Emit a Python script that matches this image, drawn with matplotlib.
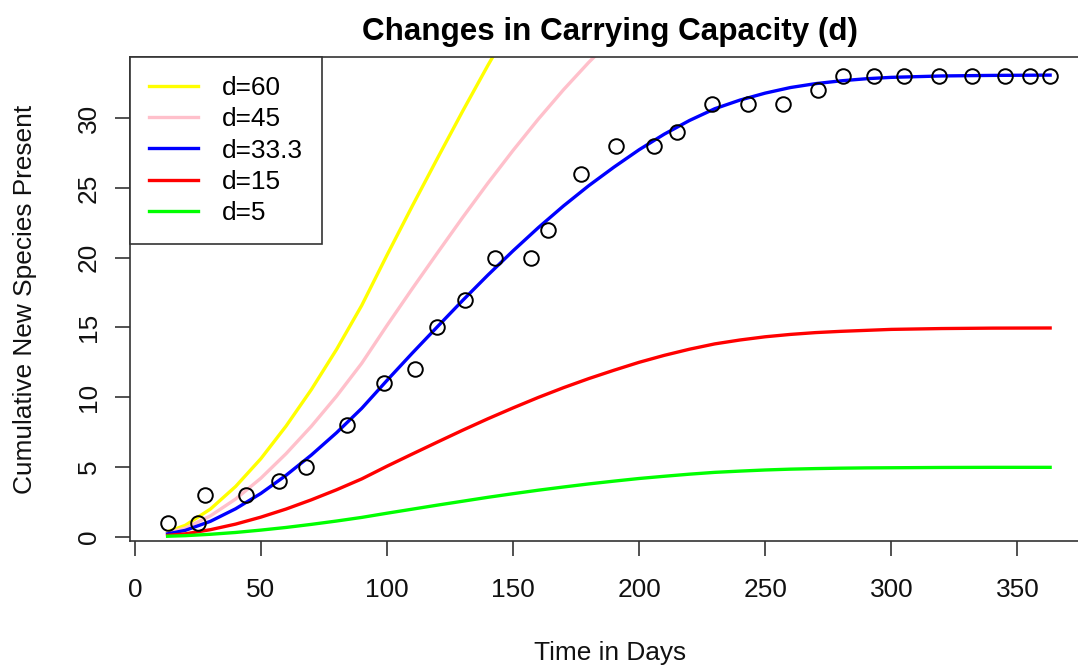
import matplotlib
matplotlib.use("Agg")
import matplotlib.pyplot as plt

plt.rcParams['font.family'] = ['Liberation Sans', 'DejaVu Sans']

# observed cumulative species counts
obs_days = [13, 25, 28, 44, 57, 68, 84, 99, 111, 120,
            131, 143, 157, 164, 177, 191, 206, 215, 229, 243,
            257, 271, 281, 293, 305, 319, 332, 345, 355, 363]
obs_species = [1, 1, 3, 3, 4, 5, 8, 11, 12, 15,
               17, 20, 20, 22, 26, 28, 28, 29, 31, 31,
               31, 32, 33, 33, 33, 33, 33, 33, 33, 33]

# model curves
curve_days = [13, 20, 30, 40, 50, 60, 70, 80, 90, 100, 110, 120, 130, 140, 150, 160,
              170, 180, 190, 200, 210, 220, 230, 240, 250, 260, 270, 280, 290, 300,
              320, 340, 363]
d60 = [0.36, 0.81, 1.98, 3.6, 5.59, 7.93, 10.54, 13.42, 16.58, 20.18, 23.69, 27.12,
       30.5, 33.78, 36.92, 39.91]
d45 = [0.27, 0.61, 1.49, 2.7, 4.19, 5.95, 7.91, 10.07, 12.43, 15.14, 17.77, 20.34,
       22.88, 25.34, 27.69, 29.93, 32.04, 34.0, 35.8, 37.49]
d33 = [0.2, 0.45, 1.1, 2.0, 3.1, 4.4, 5.85, 7.45, 9.2, 11.2, 13.15, 15.05, 16.93,
       18.75, 20.49, 22.15, 23.71, 25.16, 26.49, 27.74, 28.86, 29.84, 30.68, 31.3,
       31.8, 32.2, 32.48, 32.68, 32.83, 32.93, 33.03, 33.07, 33.09]
d15 = [0.09, 0.2, 0.5, 0.9, 1.4, 1.98, 2.64, 3.36, 4.14, 5.05, 5.92, 6.78, 7.63,
       8.45, 9.23, 9.98, 10.68, 11.33, 11.93, 12.5, 13.0, 13.44, 13.82, 14.1, 14.33,
       14.5, 14.63, 14.72, 14.79, 14.86, 14.92, 14.95, 14.96]
d5 = [0.03, 0.07, 0.17, 0.3, 0.47, 0.66, 0.88, 1.12, 1.38, 1.68, 1.97, 2.26, 2.54,
      2.82, 3.08, 3.33, 3.56, 3.78, 3.98, 4.17, 4.33, 4.48, 4.61, 4.7, 4.78, 4.84,
      4.88, 4.91, 4.93, 4.94, 4.96, 4.97, 4.97]

labels = ["d=60", "d=45", "d=33.3", "d=15", "d=5"]
colors = ["#ffff00", "#ffc0cb", "#0000ff", "#ff0000", "#00ff00"]
curves = [d60, d45, d33, d15, d5]

fig = plt.figure(figsize=(10.78, 6.65), dpi=100)
ax = fig.add_axes([0.1206, 0.1865, 0.8905, 0.7278])

ax.plot(obs_days, obs_species, linestyle='none', marker='o', markersize=10.5,
        markerfacecolor='none', markeredgecolor='black', markeredgewidth=1.4, zorder=3)
for ys, c, lab in zip(curves, colors, labels):
    ax.plot(curve_days[:len(ys)], ys, color=c, lw=2.4, label=lab, zorder=2,
            solid_joinstyle='round')

ax.set_xlim(-1.9, 378.8)
ax.set_ylim(-0.31, 34.39)
ax.set_xticks(range(0, 351, 50))
ax.set_yticks(range(0, 31, 5))

edge = '#333333'
for s in ['left', 'top', 'bottom']:
    ax.spines[s].set_color(edge)
    ax.spines[s].set_linewidth(1.2)
ax.spines['right'].set_visible(False)
ax.tick_params(axis='both', colors=edge, labelcolor='#111111', labelsize=18.9,
               length=11, width=1.2, direction='out')
ax.tick_params(axis='x', pad=16)
ax.tick_params(axis='y', pad=10)
for t in ax.get_yticklabels():
    t.set_rotation(90)
    t.set_va('center')

ax.set_xlabel("Time in Days", fontsize=18.9, labelpad=28, color='#111111')
ax.set_ylabel("Cumulative New Species Present", fontsize=18.9, labelpad=29, color='#111111')
ax.set_title("Changes in Carrying Capacity (d)", fontsize=22.6, fontweight='bold', pad=12)

leg = ax.legend(loc='upper left', bbox_to_anchor=(0, 1), borderaxespad=0,
                fontsize=18.9, fancybox=False, framealpha=1, edgecolor=edge,
                handlelength=1.87, handletextpad=0.9, labelspacing=0.28, borderpad=0.72)
leg.get_frame().set_linewidth(1.2)
for line in leg.get_lines():
    line.set_linewidth(2.4)

fig.savefig("out.png", dpi=100)
